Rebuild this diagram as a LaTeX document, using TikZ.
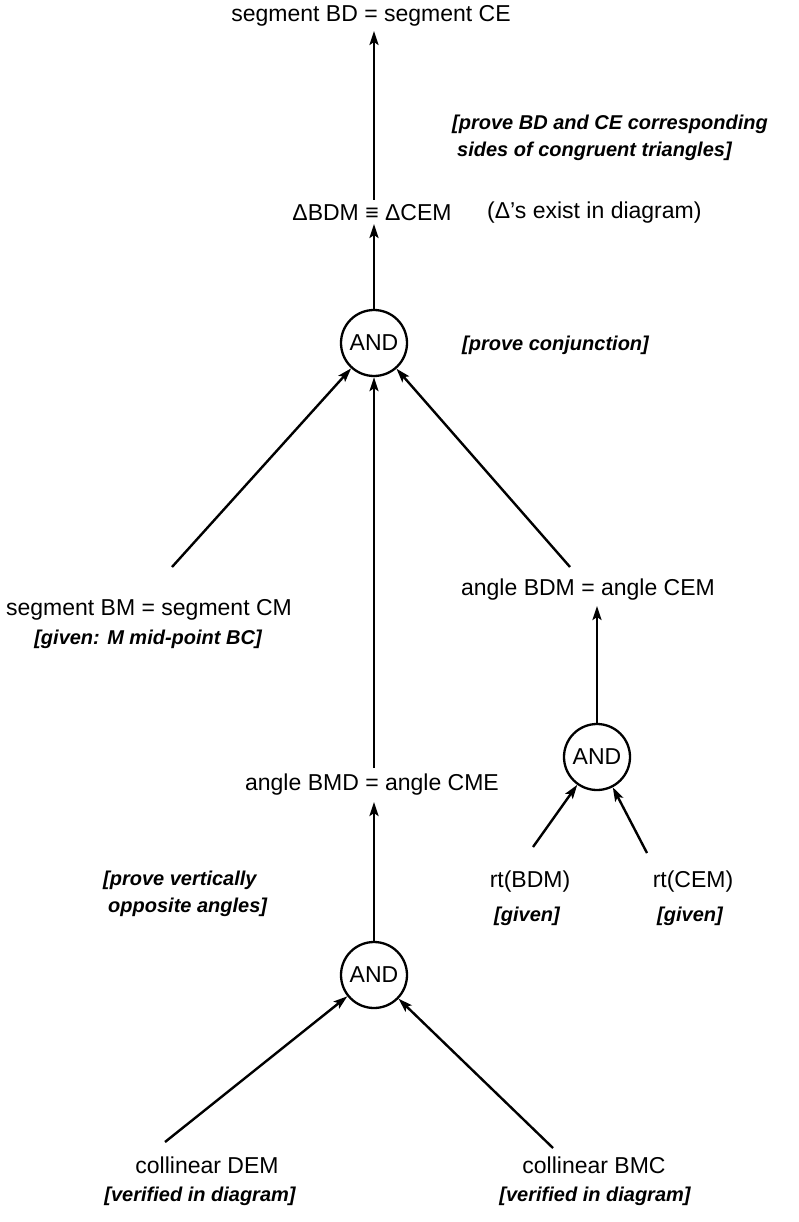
\documentclass[tikz,border=0pt]{standalone}
\usepackage{fontspec}
\setmainfont{Liberation Sans}
\usetikzlibrary{arrows.meta}
\begin{document}
\begin{tikzpicture}[x=1pt,y=-1pt,
  txt/.style={font=\fontsize{23}{27}\selectfont, inner sep=2pt},
  note/.style={font=\fontsize{20}{27}\selectfont\bfseries\itshape, inner sep=0pt, align=left},
  andnode/.style={circle, draw, line width=2.3pt, minimum size=66pt, inner sep=0pt, font=\fontsize{23}{27}\selectfont},
  arr/.style={line width=2.4pt, -{Stealth[length=14pt,width=9pt,inset=3pt]}}]
\useasboundingbox (0,0) rectangle (798,1222);
% nodes
\node[txt] (top) at (371,16) {segment BD = segment CE};
\node[note, anchor=west] (n1) at (452,138) {[prove BD and CE corresponding\\\hspace*{5pt}sides of congruent triangles]};
\node[txt] (tri) at (372,213) {ΔBDM ≡ ΔCEM};
\node[txt, anchor=west] (exist) at (485,213) {(Δ's exist in diagram)};
\node[andnode] (and1) at (374,343) {AND};
\node[note, anchor=west] (conj) at (462,345) {[prove conjunction]};
\node[txt] (segBM) at (149,610) {segment BM = segment CM};
\node[note] (given1) at (148,639) {[given: M mid-point BC]};
\node[txt] (angBDM) at (588,590) {angle BDM = angle CEM};
\node[andnode] (and2) at (597,757) {AND};
\node[txt] (angBMD) at (372,785) {angle BMD = angle CME};
\node[note, anchor=west] (n2) at (103,894) {[prove vertically\\\hspace*{5pt}opposite angles]};
\node[andnode] (and3) at (374,975) {AND};
\node[txt] (rtB) at (530,882) {rt(BDM)};
\node[note] (givB) at (527,916) {[given]};
\node[txt] (rtC) at (693,882) {rt(CEM)};
\node[note] (givC) at (690,916) {[given]};
\node[txt] (colD) at (207,1165) {collinear DEM};
\node[note] (verD) at (200,1196) {[verified in diagram]};
\node[txt] (colB) at (594,1165) {collinear BMC};
\node[note] (verB) at (595,1196) {[verified in diagram]};
% free tails of connectors
\coordinate (tTri) at (374,200);
\coordinate (hTop) at (374,31);
\coordinate (hTri) at (374,224);
\coordinate (tSegBM) at (172,567);
\coordinate (tAngBDM) at (570,567);
\coordinate (tAngBMD) at (374,768);
\coordinate (hAngBDM) at (597,606);
\coordinate (hAngBMD) at (374,802);
\coordinate (tRtB) at (533,847);
\coordinate (tRtC) at (647,853);
\coordinate (tColD) at (165,1142);
\coordinate (tColB) at (553,1148);
% connectors
\draw[arr] (tTri) -- (hTop);
\draw[arr] (and1) -- (hTri);
\draw[arr] (tSegBM) -- (and1);
\draw[arr] (tAngBDM) -- (and1);
\draw[arr] (tAngBMD) -- (and1);
\draw[arr] (and2) -- (hAngBDM);
\draw[arr] (tRtB) -- (and2);
\draw[arr] (tRtC) -- (and2);
\draw[arr] (and3) -- (hAngBMD);
\draw[arr] (tColD) -- (and3);
\draw[arr] (tColB) -- (and3);
\end{tikzpicture}
\end{document}
